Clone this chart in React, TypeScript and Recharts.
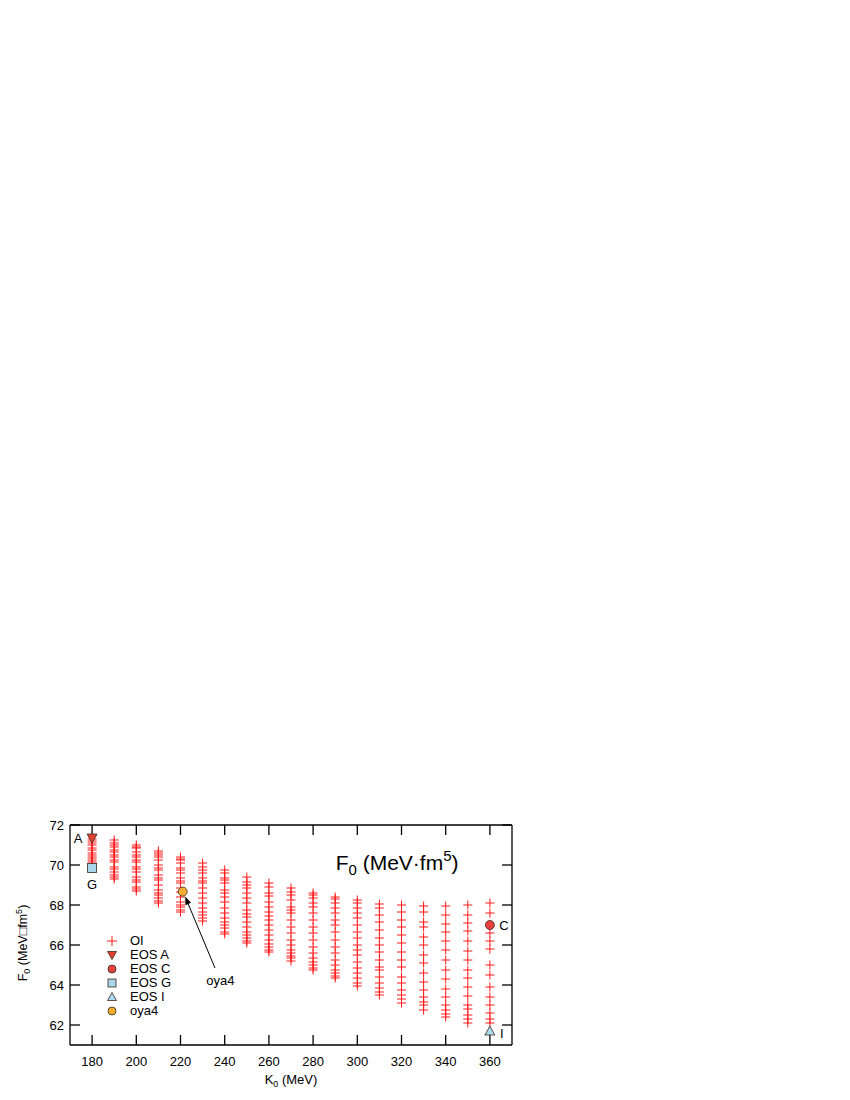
import { ScatterChart, Scatter, XAxis, YAxis, ReferenceDot, ReferenceLine } from 'recharts'

const FONT = '"Liberation Sans", Arial, Helvetica, sans-serif'

const kTicks = [180, 200, 220, 240, 260, 280, 300, 320, 340, 360]
const fTicks = [62, 64, 66, 68, 70, 72]
const kDomain = [170, 370]
const fDomain = [61, 72]

// OI points, one list per K0 column
const oi180 = [71.3, 71.2, 71.1, 71.0, 70.85, 70.75, 70.6, 70.5, 70.4, 70.3, 70.2, 70.1]
const oi190 = [71.25, 71.1, 71.0, 70.9, 70.75, 70.65, 70.5, 70.4, 70.25, 70.15, 69.9, 69.8, 69.65, 69.5, 69.4, 69.3]
const oi200 = [71.0, 70.9, 70.85, 70.65, 70.5, 70.4, 70.25, 70.15, 69.9, 69.8, 69.65, 69.4, 69.25, 69.15, 68.9, 68.8, 68.7]
const oi210 = [70.7, 70.6, 70.5, 70.4, 70.25, 70.0, 69.85, 69.75, 69.5, 69.35, 69.25, 69.0, 68.75, 68.6, 68.5, 68.35, 68.2, 68.1]
const oi220 = [70.4, 70.3, 70.25, 70.1, 69.85, 69.75, 69.6, 69.35, 69.2, 69.1, 68.85, 68.65, 68.4, 68.15, 68.0, 67.9, 67.75, 67.65]
const oi230 = [70.1, 69.9, 69.75, 69.6, 69.35, 69.2, 69.1, 68.85, 68.6, 68.35, 68.1, 67.85, 67.65, 67.5, 67.35, 67.2]
const oi240 = [69.75, 69.6, 69.35, 69.25, 69.1, 68.75, 68.6, 68.4, 68.15, 67.85, 67.6, 67.35, 67.15, 67.0, 66.85, 66.65, 66.55]
const oi250 = [69.4, 69.15, 69.0, 68.85, 68.6, 68.35, 68.1, 67.75, 67.55, 67.4, 67.15, 66.9, 66.65, 66.5, 66.35, 66.2, 66.1]
const oi260 = [69.1, 68.9, 68.6, 68.45, 68.15, 67.9, 67.65, 67.45, 67.25, 67.0, 66.75, 66.5, 66.25, 66.05, 65.9, 65.75, 65.65]
const oi270 = [68.85, 68.65, 68.5, 68.25, 67.9, 67.75, 67.6, 67.25, 66.9, 66.6, 66.25, 66.0, 65.75, 65.6, 65.45, 65.35, 65.2]
const oi280 = [68.6, 68.5, 68.35, 68.1, 67.9, 67.6, 67.25, 66.9, 66.6, 66.25, 65.9, 65.6, 65.35, 65.15, 65.0, 64.85, 64.75]
const oi290 = [68.4, 68.3, 68.1, 67.85, 67.6, 67.25, 67.0, 66.65, 66.25, 65.9, 65.6, 65.25, 65.0, 64.75, 64.6, 64.45, 64.35]
const oi300 = [68.25, 68.1, 67.85, 67.6, 67.35, 67.0, 66.65, 66.35, 66.0, 65.75, 65.5, 65.15, 64.85, 64.6, 64.35, 64.1, 63.95]
const oi310 = [68.05, 67.85, 67.5, 67.15, 66.75, 66.35, 66.0, 65.65, 65.25, 64.9, 64.75, 64.4, 64.1, 63.85, 63.65, 63.5]
const oi320 = [68.0, 67.65, 67.25, 66.9, 66.5, 66.1, 65.65, 65.25, 64.9, 64.4, 64.1, 63.75, 63.5, 63.3, 63.1]
const oi330 = [67.95, 67.65, 67.15, 66.9, 66.4, 66.0, 65.5, 65.1, 64.6, 64.15, 63.75, 63.4, 63.15, 63.0, 62.75]
const oi340 = [67.95, 67.5, 67.05, 66.65, 66.2, 65.75, 65.25, 64.75, 64.3, 63.8, 63.4, 63.0, 62.75, 62.55, 62.4]
const oi350 = [68.0, 67.5, 67.1, 66.7, 66.2, 65.7, 65.25, 64.75, 64.35, 63.9, 63.45, 63.0, 62.8, 62.5, 62.3, 62.1]
const oi360 = [68.1, 67.6, 66.6, 66.2, 65.8, 65.0, 64.5, 63.9, 63.4, 63.0, 62.6, 62.3, 62.1]

const oiColumns: [number, number[]][] = [
  [180, oi180], [190, oi190], [200, oi200], [210, oi210], [220, oi220],
  [230, oi230], [240, oi240], [250, oi250], [260, oi260], [270, oi270],
  [280, oi280], [290, oi290], [300, oi300], [310, oi310], [320, oi320],
  [330, oi330], [340, oi340], [350, oi350], [360, oi360],
]

const eosA = [{ k: 180, f: 71.35 }]
const eosC = [{ k: 360, f: 67.0 }]
const eosG = [{ k: 180, f: 69.85 }]
const eosI = [{ k: 360, f: 61.7 }]
const oya4 = [{ k: 221, f: 68.67 }]

const oiData = oiColumns.flatMap(([k, fs]) => fs.map((f) => ({ k, f })))

const RED = '#ff1a1a'
const DARK = '#3a2a20'
const AX = { stroke: '#000', strokeWidth: 1.3 }
// inward tick length (about 10px) in data units
const TK = 4.5
const TF = 0.5

const Cross = (p: any) => {
  const { cx, cy } = p
  if (cx == null || cy == null) return null
  return <path d={`M${cx - 4.5},${cy}H${cx + 4.5}M${cx},${cy - 4.5}V${cy + 4.5}`} stroke={RED} strokeWidth={1} fill="none" />
}
const TriDown = (p: any) => {
  const { cx, cy } = p
  return <path d={`M${cx - 5},${cy - 4}L${cx + 5},${cy - 4}L${cx},${cy + 5}Z`} fill="#e2412f" stroke={DARK} strokeWidth={0.8} />
}
const TriUp = (p: any) => {
  const { cx, cy } = p
  return <path d={`M${cx - 5},${cy + 4}L${cx + 5},${cy + 4}L${cx},${cy - 5}Z`} fill="#acd9ee" stroke={DARK} strokeWidth={0.8} />
}
const Square = (p: any) => {
  const { cx, cy } = p
  return <rect x={cx - 4.5} y={cy - 4.5} width={9} height={9} fill="#a9d6ea" stroke={DARK} strokeWidth={0.8} />
}
const dot = (fill: string) => (p: any) => <circle cx={p.cx} cy={p.cy} r={4.5} fill={fill} stroke={DARK} strokeWidth={0.8} />

const BottomTick = (p: any) => (
  <text x={p.x} y={p.y + 21} textAnchor="middle" fontSize={13} fontFamily={FONT} fill="#000">{p.payload.value}</text>
)
const LeftTick = (p: any) => (
  <text x={p.x - 6} y={p.y + 4.5} textAnchor="end" fontSize={13} fontFamily={FONT} fill="#000">{p.payload.value}</text>
)

const note = (text: string, dx: number, dy: number, anchor = 'middle') => (p: any) => (
  <text x={p.cx + dx} y={p.cy + dy} textAnchor={anchor} fontSize={13} fontFamily={FONT} fill="#000">{text}</text>
)

const Title = (p: any) => (
  <text x={p.cx} y={p.cy + 5} textAnchor="middle" fontSize={21} fontFamily={FONT} fill="#000">
    F<tspan dy={5} fontSize={15}>0</tspan><tspan dy={-5}> (MeV·fm</tspan><tspan dy={-9} fontSize={15}>5</tspan><tspan dy={9}>)</tspan>
  </text>
)

const TickLine = (p: any) => <line x1={p.x1} y1={p.y1} x2={p.x2} y2={p.y2} {...AX} />

const Arrow = (p: any) => {
  const { x1, y1, x2, y2 } = p
  const a = Math.atan2(y2 - y1, x2 - x1)
  const L = 8
  const W = 3
  const bx = x2 - L * Math.cos(a)
  const by = y2 - L * Math.sin(a)
  const nx = -Math.sin(a) * W
  const ny = Math.cos(a) * W
  return (
    <g>
      <line x1={x1} y1={y1} x2={bx} y2={by} stroke="#000" strokeWidth={1} />
      <path d={`M${x2},${y2}L${bx + nx},${by + ny}L${bx - nx},${by - ny}Z`} fill="#000" />
    </g>
  )
}

const XLabel = (p: any) => {
  const vb = p.viewBox
  return (
    <text x={vb.x + vb.width / 2} y={vb.y + 39} textAnchor="middle" fontSize={13} fontFamily={FONT} fill="#000">
      K<tspan dy={3} fontSize={9}>0</tspan><tspan dy={-3}> (MeV)</tspan>
    </text>
  )
}

const YLabel = (p: any) => {
  const vb = p.viewBox
  const x = vb.x + 19
  const y = vb.y + vb.height / 2 + 8
  return (
    <text x={x} y={y} transform={`rotate(-90 ${x} ${y})`} textAnchor="middle" fontSize={12.5} fontFamily={FONT} fill="#000">
      F<tspan dy={3} fontSize={9}>0</tspan><tspan dy={-3}> (MeV□fm</tspan><tspan dy={-5} fontSize={9}>5</tspan><tspan dy={5}>)</tspan>
    </text>
  )
}

const legendItems: [string, any][] = [
  ['OI', <path d="M1,6H11M6,1V11" stroke={RED} strokeWidth={1} fill="none" />],
  ['EOS A', <path d="M1.5,2.5L10.5,2.5L6,10.5Z" fill="#e2412f" stroke={DARK} strokeWidth={0.8} />],
  ['EOS C', <circle cx={6} cy={6} r={4} fill="#e8413a" stroke={DARK} strokeWidth={0.8} />],
  ['EOS G', <rect x={2} y={2} width={8} height={8} fill="#a9d6ea" stroke={DARK} strokeWidth={0.8} />],
  ['EOS I', <path d="M1.5,9.5L10.5,9.5L6,1.5Z" fill="#acd9ee" stroke={DARK} strokeWidth={0.8} />],
  ['oya4', <circle cx={6} cy={6} r={4} fill="#f5ae33" stroke={DARK} strokeWidth={0.8} />],
]

export default function App() {
  const [k0, k1] = kDomain
  const [f0, f1] = fDomain
  return (
    <div style={{ position: 'relative', width: 520, height: 1090 }}>
      <ScatterChart width={520} height={1090} margin={{ top: 816, right: 8, bottom: 13, left: 0 }}>
        <XAxis
          dataKey="k" type="number" domain={kDomain} ticks={kTicks} height={40}
          tickSize={0} tickMargin={0} tickLine={false} axisLine={AX}
          tick={BottomTick} label={{ content: XLabel }}
        />
        <XAxis
          xAxisId="top" orientation="top" dataKey="k" type="number" domain={kDomain} ticks={kTicks} height={1}
          tickLine={false} axisLine={AX} tick={false}
        />
        <YAxis
          dataKey="f" type="number" domain={fDomain} ticks={fTicks} width={62}
          tickSize={0} tickMargin={0} tickLine={false} axisLine={AX}
          tick={LeftTick} label={{ content: YLabel }}
        />
        <YAxis
          yAxisId="right" orientation="right" dataKey="f" type="number" domain={fDomain} ticks={fTicks} width={8}
          tickLine={false} axisLine={AX} tick={false}
        />
        {kTicks.map((k) => (
          <ReferenceLine key={`b${k}`} segment={[{ x: k, y: f0 }, { x: k, y: f0 + TF }]} shape={TickLine} />
        ))}
        {kTicks.map((k) => (
          <ReferenceLine key={`t${k}`} segment={[{ x: k, y: f1 }, { x: k, y: f1 - TF }]} shape={TickLine} />
        ))}
        {fTicks.map((f) => (
          <ReferenceLine key={`l${f}`} segment={[{ x: k0, y: f }, { x: k0 + TK, y: f }]} shape={TickLine} />
        ))}
        {fTicks.map((f) => (
          <ReferenceLine key={`r${f}`} segment={[{ x: k1, y: f }, { x: k1 - TK, y: f }]} shape={TickLine} />
        ))}
        <Scatter name="OI" data={oiData} shape={Cross} isAnimationActive={false} />
        <Scatter name="EOS A" data={eosA} shape={TriDown} isAnimationActive={false} />
        <Scatter name="EOS C" data={eosC} shape={dot('#e8413a')} isAnimationActive={false} />
        <Scatter name="EOS G" data={eosG} shape={Square} isAnimationActive={false} />
        <Scatter name="EOS I" data={eosI} shape={TriUp} isAnimationActive={false} />
        <Scatter name="oya4" data={oya4} shape={dot('#f5ae33')} isAnimationActive={false} />
        <ReferenceLine segment={[{ x: 235.6, y: 64.85 }, { x: 222.1, y: 68.42 }]} shape={Arrow} />
        <ReferenceDot x={180} y={71.35} r={0} shape={note('A', -14, 5)} />
        <ReferenceDot x={180} y={69.85} r={0} shape={note('G', 0, 21)} />
        <ReferenceDot x={360} y={67.0} r={0} shape={note('C', 14, 5)} />
        <ReferenceDot x={360} y={61.7} r={0} shape={note('I', 12, 7)} />
        <ReferenceDot x={238} y={64.25} r={0} shape={note('oya4', 0, 5)} />
        <ReferenceDot x={318} y={70.0} r={0} shape={Title} />
      </ScatterChart>
      {legendItems.map(([name, icon], i) => (
        <div
          key={name}
          style={{
            position: 'absolute', left: 98, top: 926 + i * 14, height: 14, display: 'flex',
            alignItems: 'center', fontFamily: FONT, fontSize: 13, lineHeight: '14px', color: '#000',
          }}
        >
          <svg width={12} height={12} style={{ marginRight: 12 }}>{icon}</svg>
          <span>{name}</span>
        </div>
      ))}
    </div>
  )
}
